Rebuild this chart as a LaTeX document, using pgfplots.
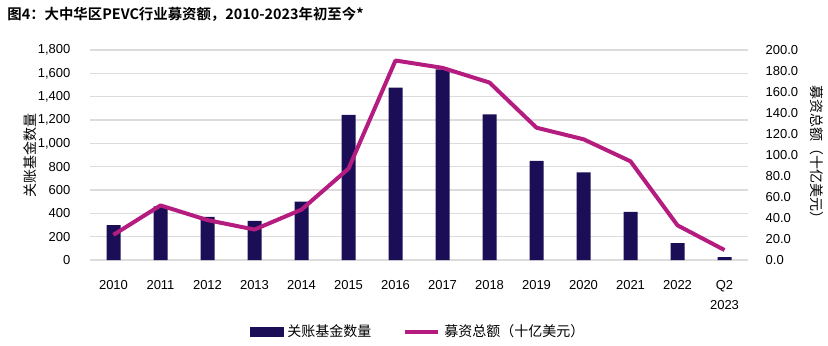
\documentclass[border=0pt]{standalone}
\usepackage{pgfplots}
\pgfplotsset{compat=1.18}
\usepackage{fontspec}
\setmainfont{Liberation Sans}
\newfontfamily\cjk{Noto Sans CJK SC}
\newfontfamily\cjkb{Noto Sans CJK SC Bold}
\definecolor{navy}{HTML}{1C0D57}
\definecolor{mag}{HTML}{B51C80}
\definecolor{gridc}{HTML}{DCDCDC}
\begin{document}
\begin{tikzpicture}
\useasboundingbox (0,0) rectangle (414pt,172.5pt);
\node[anchor=west,inner sep=0pt] at (3.5pt,165.5pt) {\fontsize{7.2pt}{8pt}\cjkb 图4：大中华区PEVC行业募资额，2010-2023年初至今*};
\begin{axis}[
  at={(45pt,42.5pt)}, anchor=south west,
  scale only axis, width=329pt, height=105pt,
  xmin=-0.5, xmax=13.5, ymin=0, ymax=1800,
  ytick={0,200,...,1800},
  xtick={0,...,13},
  xticklabels={2010,2011,2012,2013,2014,2015,2016,2017,2018,2019,2020,2021,2022,{Q2\\2023}},
  xticklabel style={align=center, yshift=-6.5pt, font=\fontsize{6.5pt}{10pt}\selectfont},
  yticklabel style={xshift=-6.3pt, font=\fontsize{6.5pt}{8pt}\selectfont},
  /pgf/number format/assume math mode=true,
  /pgf/number format/1000 sep={,},
  axis line style={draw=none},
  major tick length=0pt,
  ymajorgrids, grid style={gridc, line width=0.6pt},
  axis y line*=left,
  ylabel={\fontsize{7pt}{8pt}\cjk 关账基金数量},
  ylabel style={at={(axis description cs:-0.0912,0.5)}, anchor=center, rotate=0},
  clip=false,
]
\addplot[ybar, bar width=7pt, fill=navy, draw=none, bar shift=0pt] coordinates {
(0,300) (1,460) (2,370) (3,335) (4,500) (5,1245) (6,1478) (7,1635) (8,1248) (9,850) (10,752) (11,413) (12,145) (13,25)};
\end{axis}
\begin{axis}[
  at={(45pt,42.5pt)}, anchor=south west,
  scale only axis, width=329pt, height=105pt,
  xmin=-0.5, xmax=13.5, ymin=0, ymax=200,
  ytick={0,20,...,200},
  xtick=\empty,
  axis x line=none,
  axis y line*=right,
  axis line style={draw=none},
  major tick length=0pt,
  yticklabel style={xshift=5.3pt, font=\fontsize{6.5pt}{8pt}\selectfont, /pgf/number format/.cd, fixed, fixed zerofill, precision=1},
  /pgf/number format/assume math mode=true,
  ylabel={\fontsize{7pt}{8pt}\cjk 募资总额（十亿美元）},
  ylabel style={at={(axis description cs:1.105,0.5)}, anchor=center, rotate=180},
  legend style={at={(axis description cs:0.5,-0.343)}, anchor=center, draw=none, legend columns=2,
    font=\fontsize{7pt}{8pt}\cjk, /tikz/every even column/.append style={column sep=14pt}},
  clip=false,
]
\addlegendimage{legend image code/.code={\fill[navy] (0pt,-2.3pt) rectangle (16.5pt,2.3pt);}}
\addlegendentry{关账基金数量}
\addplot[mag, line width=2pt, line join=round, legend image code/.code={\draw[mag, line width=2pt] (0pt,0pt) -- (16.5pt,0pt);}] coordinates {
(0,24) (1,52) (2,38) (3,29) (4,48) (5,87) (6,190) (7,183) (8,169) (9,126) (10,115) (11,94) (12,33) (13,9.5)};
\addlegendentry{募资总额（十亿美元）}
\end{axis}
\end{tikzpicture}
\end{document}
